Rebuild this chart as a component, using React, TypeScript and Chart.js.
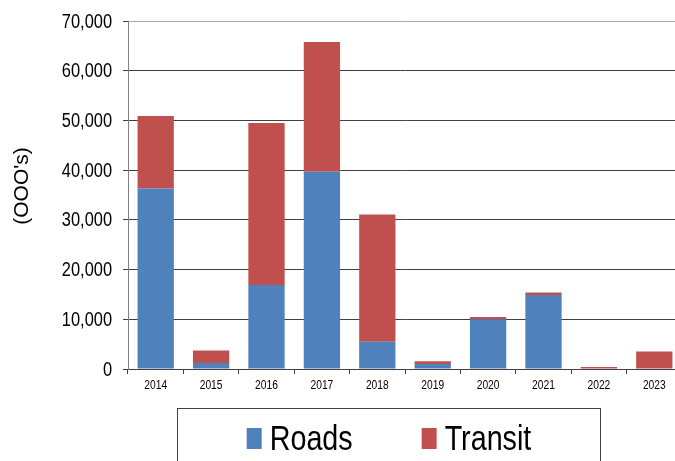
import React, { useEffect, useRef } from "react";
import { Chart, registerables } from "chart.js";

Chart.register(...registerables);

const years = ["2014", "2015", "2016", "2017", "2018", "2019", "2020", "2021", "2022", "2023"];
const roads = [36300, 1200, 16900, 39700, 5500, 1000, 10000, 14900, 0, 0];
const transit = [14600, 2500, 32600, 26100, 25600, 550, 450, 500, 400, 3500];
const yTicksMax = 70000;
const yStep = 10000;
const yTitle = "(OOO's)";

const ROADS_COLOR = "#4F81BD";
const TRANSIT_COLOR = "#C0504D";
const FONT = '"Liberation Sans", Arial, sans-serif';
const SQUEEZE = 0.82; // narrow (condensed) look of the original text

function narrowText(ctx: any, text: string, x: number, y: number, align: string, baseline: string) {
  ctx.save();
  ctx.translate(x, y);
  ctx.scale(SQUEEZE, 1);
  ctx.textAlign = align;
  ctx.textBaseline = baseline;
  ctx.fillText(text, 0, 0);
  ctx.restore();
}

const textPlugin = {
  id: "textPlugin",
  afterDraw(chart: any) {
    const ctx = chart.ctx;
    const ys = chart.scales.y;
    const xs = chart.scales.x;
    ctx.save();
    ctx.fillStyle = "#000000";

    // y tick labels
    ctx.font = `20px ${FONT}`;
    ys.ticks.forEach((t: any) => {
      narrowText(ctx, String(t.label), ys.right - 16, ys.getPixelForValue(t.value) + 1, "right", "middle");
    });

    // x tick labels
    ctx.font = `12.5px ${FONT}`;
    xs.ticks.forEach((t: any, i: number) => {
      narrowText(ctx, String(t.label), xs.getPixelForTick(i), xs.top + 17, "center", "middle");
    });

    // y axis title
    ctx.font = `21px ${FONT}`;
    ctx.save();
    ctx.translate(22.5, (ys.top + ys.bottom) / 2 - 9);
    ctx.rotate(-Math.PI / 2);
    ctx.textAlign = "center";
    ctx.textBaseline = "middle";
    ctx.fillText(yTitle, 0, 0);
    ctx.restore();

    // legend box
    ctx.strokeStyle = "#404040";
    ctx.lineWidth = 1;
    const bx = 177.5, by = 408.5, bw = 423, bh = 80;
    ctx.strokeRect(bx, by, bw, bh);
    ctx.font = `35px ${FONT}`;
    const swW = 15, swH = 21, gap = 8, itemGap = 69;
    const items = chart.data.datasets.map((d: any) => ({
      label: d.label,
      color: d.backgroundColor,
      w: ctx.measureText(d.label).width * SQUEEZE,
    }));
    let total = 0;
    items.forEach((it: any, i: number) => {
      total += swW + gap + it.w + (i > 0 ? itemGap : 0);
    });
    let x = bx + bw / 2 - total / 2;
    items.forEach((it: any) => {
      ctx.fillStyle = it.color;
      ctx.fillRect(x, 428, swW, swH);
      ctx.fillStyle = "#000000";
      narrowText(ctx, it.label, x + swW + gap, 450, "left", "alphabetic");
      x += swW + gap + it.w + itemGap;
    });
    ctx.restore();
  },
};

export default function App() {
  const ref = useRef<HTMLCanvasElement | null>(null);
  useEffect(() => {
    if (!ref.current) return;
    const chart = new Chart(ref.current, {
      type: "bar",
      data: {
        labels: years,
        datasets: [
          { label: "Roads", data: roads, backgroundColor: ROADS_COLOR, borderWidth: 0 },
          { label: "Transit", data: transit, backgroundColor: TRANSIT_COLOR, borderWidth: 0 },
        ],
      },
      options: {
        responsive: false,
        animation: false,
        devicePixelRatio: 1,
        layout: { padding: { top: 21, left: 0, right: 2, bottom: 66 } },
        datasets: { bar: { barPercentage: 0.655, categoryPercentage: 1 } },
        plugins: {
          legend: { display: false },
          tooltip: { enabled: false },
        },
        scales: {
          x: {
            stacked: true,
            grid: {
              offset: true,
              drawOnChartArea: false,
              drawTicks: true,
              tickLength: 5,
              tickColor: "#404040",
            },
            border: { color: "#404040", width: 1 },
            ticks: { display: false, autoSkip: false, maxRotation: 0 },
            afterFit(scale: any) {
              scale.height = 26;
            },
          },
          y: {
            stacked: true,
            min: 0,
            max: yTicksMax,
            ticks: {
              display: false,
              stepSize: yStep,
              callback: (v: any) => Number(v).toLocaleString("en-US"),
            },
            grid: {
              color: (c: any) => (c.tick && c.tick.value === yTicksMax ? "#a6a6a6" : "#404040"),
              lineWidth: 1,
              tickLength: 5,
              tickColor: "#404040",
            },
            border: { color: "#808080", width: 1 },
            title: { display: false, text: yTitle },
            afterFit(scale: any) {
              scale.width = 128;
            },
          },
        },
      },
      plugins: [textPlugin],
    });
    return () => chart.destroy();
  }, []);

  return (
    <div
      style={{
        position: "absolute",
        left: 0,
        top: 0,
        width: 675,
        height: 461,
        overflow: "hidden",
        background: "#ffffff",
      }}
    >
      <canvas ref={ref} width={684} height={461} style={{ width: 684, height: 461, display: "block" }} />
    </div>
  );
}
